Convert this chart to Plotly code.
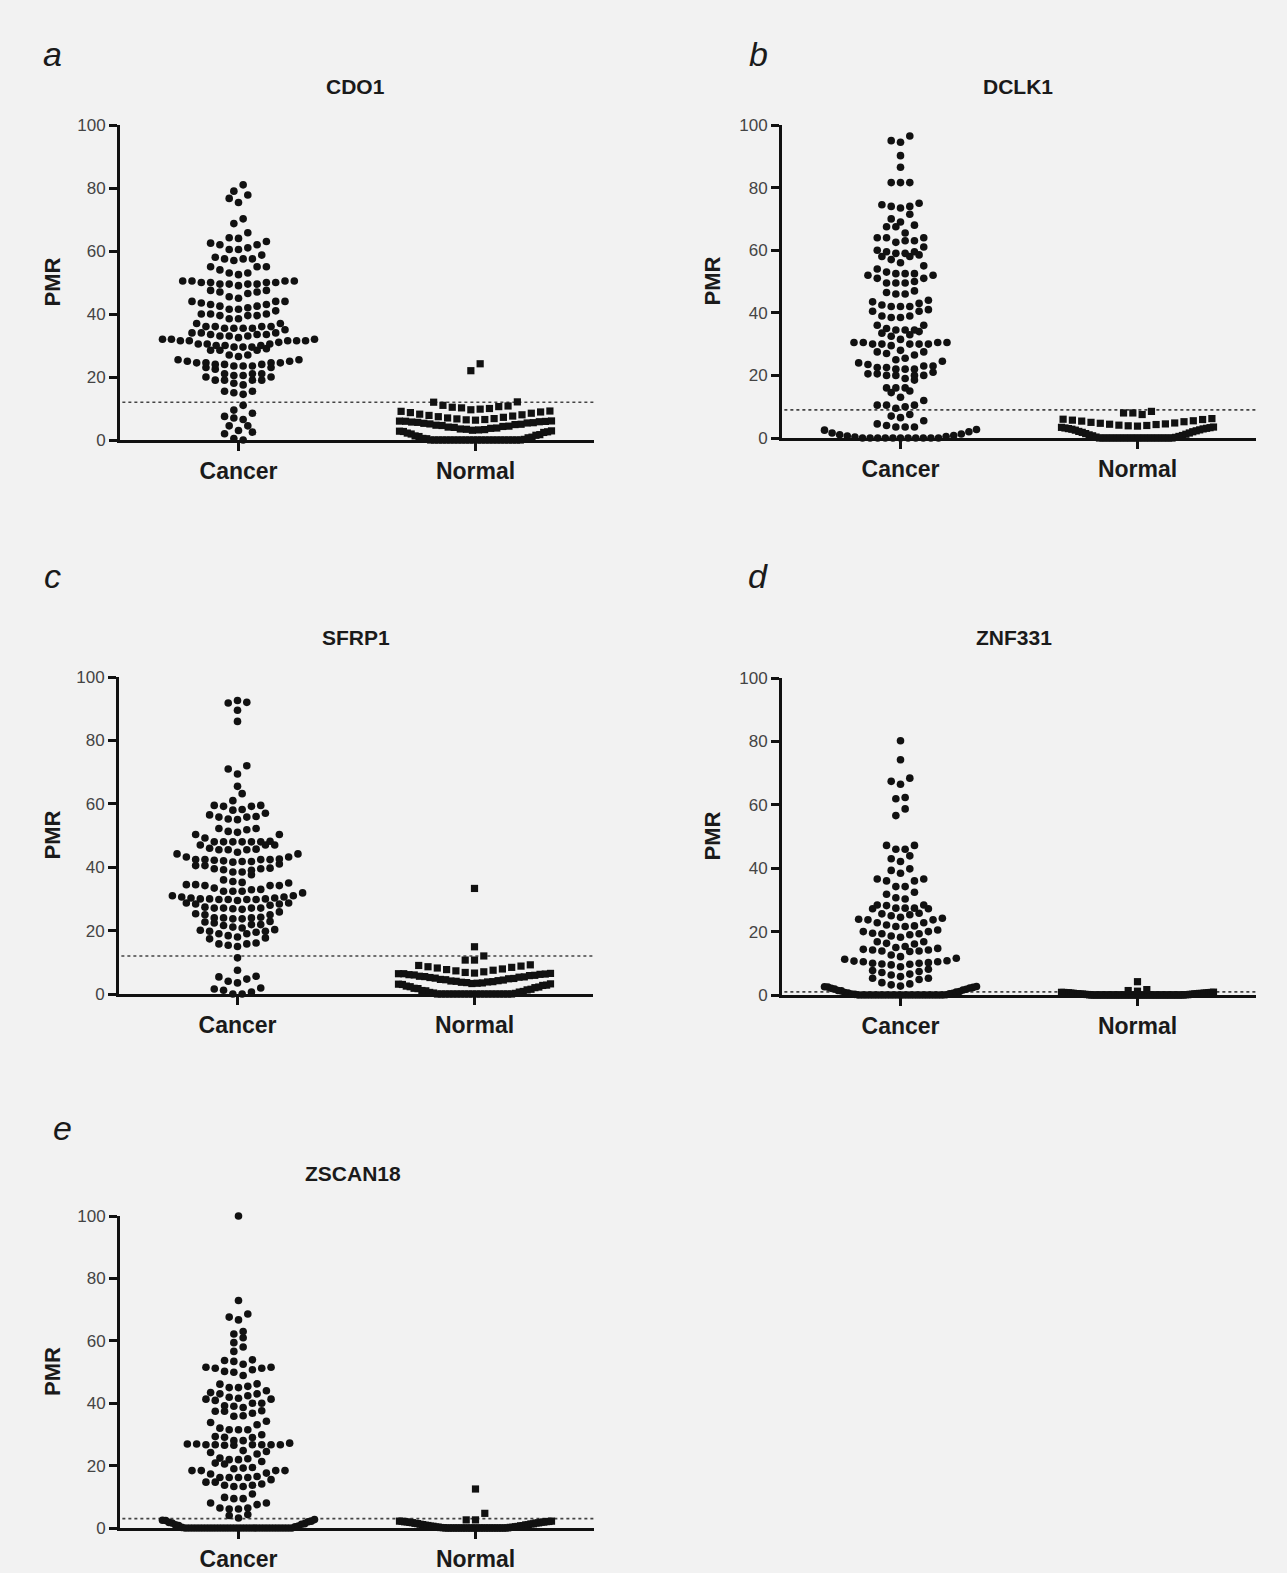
import plotly.graph_objects as go

# ---------------- data (PMR values) ----------------
genes = ["CDO1", "DCLK1", "SFRP1", "ZNF331", "ZSCAN18"]
letters = ["a", "b", "c", "d", "e"]
categories = ["Cancer", "Normal"]
thresholds = [12, 9, 12, 1, 3]
y_ticks = [0, 20, 40, 60, 80, 100]

a_cancer = [81, 79, 77.8, 76.7, 75.4, 70.2, 68.7, 65.8,
            64.2, 64, 63, 62, 62, 62.5, 61, 60.5, 60.5,
            58.7, 57.5, 57.5, 57, 57.5, 58,
            55, 54, 53, 53, 55, 55,
            52.5, 49.5, 49, 50.5, 50.5, 50.5, 50, 49.5, 50, 50, 49.5, 50, 49.5, 50.5,
            47.5, 47, 46.5, 47, 47.5, 45, 45.5,
            43, 42.5, 42, 41.5, 44, 44, 43.5, 44, 41, 41.5, 42.5, 43,
            39.5, 38.5, 40, 40, 38.5, 40, 39.5, 39.5,
            37, 37,
            36, 36, 35.5, 35.5, 34, 34, 33.5, 33.5, 34, 35, 35.5, 35.5, 36, 36,
            33, 33, 32, 31.5, 31.5, 31.5, 31, 30.5, 30.5, 30.5, 31.5, 31.5, 32, 32, 32.5, 33, 33.5,
            30, 29.5, 29.5, 28.5, 28.5, 27, 27, 28.5, 29, 29.5, 30, 30, 26.5,
            25.5, 25, 24.5, 24.5, 24, 24, 24.5, 24.5, 25, 25.5, 24, 23.5, 23, 22.5, 23, 23.5, 23.5,
            20, 19, 19, 21, 20.5, 21, 21, 20, 20.5, 19, 19, 18, 17.5,
            15.5, 14.5, 15, 15.5,
            11, 8.5, 7.5, 9.5, 6.5, 7,
            4.5, 4.5, 3, 2.5, 2, 0, 0.5]
a_normal = [0, 0, 0, 0, 0, 0, 0, 0, 0, 0, 0, 0, 0, 0, 0, 0, 0, 0, 0, 0, 0, 0, 0, 0,
            0.2, 0.4, 0.5, 0.7, 0.9, 1.1, 1.3, 1.5, 1.7, 1.9, 2.2, 2.4, 2.6, 2.7, 2.8, 2.9,
            3.1, 3.2, 3.3, 3.4, 3.5, 3.7, 3.8, 4.0, 4.1, 4.3, 4.4, 4.6, 4.7, 4.9, 5.0, 5.1,
            5.3, 5.4, 5.5, 5.6, 5.7, 5.8, 5.9, 5.95, 6.0, 6.05,
            6.3, 6.4, 6.5, 6.7, 6.8, 7.0, 7.2, 7.4, 7.6, 7.8, 8.0, 8.2, 8.5, 8.7, 8.9, 9.1, 9.2,
            9.6, 9.8, 10.0, 10.2, 10.4, 10.6, 10.8, 11.0, 12.0, 12.1,
            22, 24.2]

b_cancer = [96.5, 95, 94.5, 90.2, 86.5, 81.6, 81.6, 81.6,
            75, 74.5, 74, 73.5, 74, 71.5, 70,
            69, 68, 67.5, 67.5, 65.5,
            64, 64, 63, 62.5, 64, 63,
            61, 60, 59.5, 59.5, 59, 59, 58.5, 58, 58, 57, 56, 55,
            54, 53, 52.5, 52.5, 52, 52.5, 52, 51, 51, 49.5, 49.5, 49.5, 50, 47, 46.5, 46, 46,
            43.5, 43, 42.5, 42, 44, 42, 42, 41, 40.5, 40.5, 39, 38.5, 38.5, 39,
            36, 36, 35, 34.5, 34.5, 34.5, 34, 33.5, 33, 32.5, 31.5,
            30.5, 30.5, 30.5, 30, 30, 30, 30, 30.5, 29.5, 28, 27.5, 27, 27.5, 26.5, 30,
            25.5, 25, 24.5, 24, 23.5, 23, 23, 22.5, 22.5, 22, 22, 22, 21, 20, 20, 20, 20,
            20.5, 20.5, 19, 18.5,
            16, 16, 16, 15, 14.5,
            13, 12,
            10.5, 10.5, 10.5, 9.5, 10,
            7.5, 7, 6.5, 5.5, 4.5, 4, 3.5, 3.5, 3.5,
            0, 0, 0, 0, 0, 0, 0, 0, 0, 0, 0,
            0.3, 0.5, 0.6, 0.8, 1, 1.3, 1.6, 2, 2.5, 2.7]
b_normal = [0, 0, 0, 0, 0, 0, 0, 0, 0, 0, 0, 0, 0, 0, 0, 0, 0, 0, 0, 0, 0, 0,
            0.2, 0.3, 0.5, 0.7, 0.8, 1.0, 1.2, 1.4, 1.6, 1.8, 2.0, 2.1, 2.3, 2.5, 2.6, 2.8,
            2.9, 3.0, 3.1, 3.2, 3.3, 3.4, 3.5,
            3.8, 3.9, 4.0, 4.1, 4.3, 4.4, 4.5, 4.7, 4.8, 5.0, 5.2, 5.4, 5.5, 5.7, 5.9, 6.0, 6.2,
            7.5, 8.0, 8.0, 8.5]

c_cancer = [92.6, 91.8, 92, 89.5, 86, 72, 71, 69.4, 65.5, 63.2,
            61, 59.2, 59.2, 59.5, 59.5, 58.2, 58, 57, 56, 55.8, 55, 55.2, 55.8, 56.5,
            52.2, 51.3, 51, 51.8, 52.2, 50.3, 50.3, 49.2, 48.2, 48, 48, 48, 48, 48, 48,
            47, 47, 47, 46, 45.5, 45.5, 45.7, 45.5, 44.7,
            44.2, 44.2, 43.2, 43.2, 42.6, 42.4, 42.4, 42.2, 41.8, 41.6, 41.8, 42, 42.4, 42.4,
            41, 40.5, 39.7, 39.5, 39.5, 40.5, 39.2, 38.5, 38.5, 39, 37.6,
            36, 35.5, 35, 35.2, 34.5, 34.2, 34.2, 33, 32.4, 32.4, 31.9, 32.4, 32.9, 33.4, 34.2, 34.5,
            31, 30.6, 30.3, 30, 30, 29.8, 29.8, 28.7, 28.4, 28.4, 28.7, 29.5, 29.8, 29.8, 30,
            30.3, 30.6, 31,
            28, 27.1, 27.1, 26.9, 25.9, 25, 25, 25.3, 26.7, 27.1, 27.1, 27.4,
            24, 24, 23.7, 22.9, 21.9, 21.6, 21.9, 22.4, 22.7, 23.7, 24, 24.2,
            21.1, 20.3, 19.8, 19.5, 19, 18.4, 19, 19.8, 20.1, 20.8,
            17.7, 17.4, 18, 16.1, 15.8, 15, 15.4, 15.8,
            11.4, 7.5, 5.4, 5.6, 4.7, 4, 3.5, 1.6, 1.9, 1.2, 0.6, 0, 0]
c_normal = [0, 0, 0, 0, 0, 0, 0, 0, 0, 0, 0, 0, 0, 0, 0, 0, 0, 0, 0, 0,
            0.2, 0.3, 0.5, 0.6, 0.8, 1.0, 1.1, 1.3, 1.5, 1.7, 1.8, 2.0, 2.2, 2.3, 2.5,
            2.7, 2.8, 3.0, 3.1, 3.2,
            3.3, 3.4, 3.5, 3.6, 3.7, 3.8, 3.9, 4.0, 4.1, 4.2, 4.4, 4.5, 4.6, 4.8, 4.9,
            5.0, 5.2, 5.3, 5.4, 5.5, 5.6, 5.8, 5.9, 6.0, 6.1, 6.2, 6.3, 6.4, 6.4, 6.5,
            6.6, 6.8, 7.0, 7.3, 7.5, 7.7, 7.9, 8.2, 8.4, 8.6, 8.8, 9.0, 9.2,
            10.7, 10.7, 12.0, 14.9, 33.3]

d_cancer = [80.2, 74.2, 68.4, 67.4, 66.5, 62.3, 61.9, 58.7, 56.6,
            47.2, 47.2, 46, 46, 43.9, 43, 42.1, 39.8, 39.3, 38.4, 36.6, 36.6, 36, 36,
            34.2, 34.2, 32.4, 31.8, 30.7, 30.3,
            28.4, 28.4, 28.2, 27.4, 27.4, 27.2, 27.2, 27.4, 25.6, 25, 25.8, 25.3,
            24.2, 23.7, 23.7, 23.9, 24.5, 22.8, 22.8,
            21.8, 21.6, 21.6, 22.1, 20.5, 20, 20, 19.5, 19.3, 19.3, 19, 18.6, 18.2,
            16.8, 16.8, 16.3, 16.1,
            15.3, 14.7, 15, 14.4, 14.2, 13.9, 13.7, 13.9, 14.2, 12.6, 12.1, 11.6, 11.3,
            10.7, 10.5, 9.7, 10, 10, 9.8, 10.2, 10.5, 10.8, 9.5, 8.9, 8.1, 7.7, 7.4, 7.1,
            6.6, 6.3, 5.8, 5.3, 5.3, 4.9, 3.9, 3.5, 3.2, 2.8,
            0, 0, 0, 0, 0, 0, 0, 0, 0, 0, 0, 0, 0, 0, 0, 0, 0, 0, 0, 0, 0, 0, 0, 0, 0, 0,
            0.1, 0.2, 0.3, 0.4, 0.5, 0.6, 0.8, 0.9, 1.1, 1.3, 1.4, 1.6, 1.8, 1.9, 2.1,
            2.2, 2.4, 2.5, 2.6, 2.7]
d_normal = [0, 0, 0, 0, 0, 0, 0, 0, 0, 0, 0, 0, 0, 0, 0, 0, 0, 0, 0, 0,
            0, 0, 0, 0, 0, 0, 0, 0, 0, 0, 0, 0, 0, 0, 0, 0, 0, 0, 0, 0,
            0.05, 0.1, 0.1, 0.15, 0.2, 0.2, 0.25, 0.3, 0.3, 0.35, 0.4, 0.4, 0.45, 0.5,
            0.5, 0.55, 0.6, 0.6, 0.65, 0.7, 0.7, 0.75, 0.8, 0.8, 0.85, 0.9,
            1.2, 1.4, 1.7, 4.2]

e_cancer = [100, 72.9, 68.6, 67.6, 66.7, 63, 62.2, 61, 59.4, 58, 56.6,
            53.9, 53.7, 53.4, 52.5, 51.5, 51.5, 51.2, 51.2, 50.7, 50.2, 49.9, 48.9,
            46.1, 45, 46.2, 45.4, 45, 44, 43.4, 43, 43, 42.4, 41.9, 41.6, 41.3, 41.3,
            40.9, 40, 40, 39, 39.2, 38.6, 37.6, 37.4, 37.4, 36.8, 36, 35.8, 34.2, 33.8,
            33.1, 32, 31.5, 31.5, 31.5, 29.9,
            29.1, 29.3, 29, 28, 28, 27.2, 26.9, 26.7, 26.7, 26.5, 26.7, 26.7, 26.7,
            26.9, 26.7, 26.5, 24.8, 24.2, 23.7, 24.5, 22.4, 21.9, 21.9, 22.2, 21.3,
            20.8, 20.5,
            19.4, 19, 19.2, 18.4, 18.4, 18.4, 18.4, 17.3, 17.6, 16.5, 16.2, 16.2, 16.2,
            16.2, 15.5, 14.7, 14.7, 14.1, 13.7, 13.3, 13.3, 13.7, 10.9, 9.8, 9.4, 9.4,
            8, 8, 7.5, 6.4, 6.4, 6.1, 6.1, 4, 4.3, 3.2,
            0, 0, 0, 0, 0, 0, 0, 0, 0, 0, 0, 0, 0, 0, 0, 0, 0, 0, 0, 0, 0, 0, 0, 0,
            0, 0, 0, 0, 0, 0, 0, 0, 0, 0,
            0.2, 0.4, 0.6, 0.8, 1.0, 1.2, 1.4, 1.6, 1.8, 2.0, 2.2, 2.4, 2.5, 2.7]
e_normal = [0, 0, 0, 0, 0, 0, 0, 0, 0, 0, 0, 0, 0, 0, 0, 0, 0, 0, 0, 0, 0, 0, 0, 0,
            0.05, 0.1, 0.15, 0.2, 0.25, 0.3, 0.35, 0.4, 0.5, 0.55, 0.6, 0.7, 0.75,
            0.8, 0.9, 1.0, 1.05, 1.1, 1.2, 1.3, 1.35, 1.4, 1.5, 1.6, 1.65, 1.7, 1.8,
            1.85, 1.9, 1.95, 2.0, 2.05, 2.1, 2.15, 2.2, 2.2,
            2.6, 2.6, 4.7, 12.5]

cancer_sets = [a_cancer, b_cancer, c_cancer, d_cancer, e_cancer]
normal_sets = [a_normal, b_normal, c_normal, d_normal, e_normal]

# ---------------- layout / style ----------------
W, H = 1287, 1573
BG = "#f2f2f2"
# plot area boxes in pixels: (left, right, top, bottom)
boxes = [(120, 594, 125, 440), (782, 1256, 125, 438), (119, 593, 677, 994),
         (782, 1256, 678, 995), (120, 594, 1216, 1528)]
title_xy = [(355, 86), (1018, 86), (356, 637), (1014, 637), (353, 1173)]
letter_xy = [(52, 54), (758, 54), (52, 576), (758, 576), (62, 1128)]
row_h_cancer = [2.8, 2.8, 2.8, 2.8, 2.8]
row_h_normal = [3.0, 3.6, 3.3, 1.0, 2.5]

PX_PER_UNIT = 237.0
DX = 9.3 / PX_PER_UNIT       # centre spacing of neighbouring symbols
CAP = 76.0 / PX_PER_UNIT      # max half-width of a row
FONT = "Liberation Sans, Arial, sans-serif"


def swarm(values, h):
    vals = sorted(values)
    xs, ys = [], []
    i, n = 0, len(vals)
    while i < n:
        start = vals[i]
        j = i
        while j < n and vals[j] < start + h:
            j += 1
        row = vals[i:j]
        m = len(row)
        sp = DX if (m - 1) * DX <= 2 * CAP else 2 * CAP / (m - 1)
        slots = [(k - (m - 1) / 2.0) * sp for k in range(m)]
        order = sorted(range(m), key=lambda k: (round(abs(slots[k]), 6), (k % 2)))
        for v, k in zip(row, order):
            xs.append(slots[k])
            ys.append(v)
        i = j
    return xs, ys


fig = go.Figure()
annotations = []
shapes = []

for p in range(5):
    sfx = "" if p == 0 else str(p + 1)
    xa, ya = "x" + sfx, "y" + sfx
    l, r, t, b = boxes[p]
    for ci, (vals, sym, h) in enumerate([(cancer_sets[p], "circle", row_h_cancer[p]),
                                         (normal_sets[p], "square", row_h_normal[p])]):
        ox, oy = swarm(vals, h)
        fig.add_trace(go.Scatter(
            x=[ci + o for o in ox], y=oy, mode="markers",
            marker=dict(symbol=sym, size=7.6 if sym == "circle" else 7.2,
                        color="#111111", line=dict(width=0)),
            cliponaxis=False, showlegend=False, hoverinfo="skip",
            xaxis=xa, yaxis=ya))

    fig.layout["xaxis" + sfx] = dict(
        domain=[l / W, r / W], anchor=ya, range=[-0.5, 1.5],
        showline=True, linecolor="#111111", linewidth=3, mirror=False,
        ticks="outside", ticklen=8, tickwidth=2.5, tickcolor="#111111",
        tickvals=[0, 1], ticktext=categories,
        tickfont=dict(family=FONT, size=23, color="#1a1a1a", weight="bold"),
        showgrid=False, zeroline=False, fixedrange=True, automargin=False)
    fig.layout["yaxis" + sfx] = dict(
        domain=[1 - b / H, 1 - t / H], anchor=xa, range=[0, 100],
        showline=True, linecolor="#111111", linewidth=3,
        ticks="outside", ticklen=8, tickwidth=2.5, tickcolor="#111111",
        tickvals=y_ticks, ticktext=[str(v) for v in y_ticks],
        tickfont=dict(family=FONT, size=17, color="#444444"),
        showgrid=False, zeroline=False, fixedrange=True, automargin=False)

    shapes.append(dict(type="line", xref=xa + " domain", yref=ya,
                       x0=0.005, x1=1, y0=thresholds[p], y1=thresholds[p],
                       line=dict(color="#444444", width=1.6, dash="dot"), layer="below"))

    tx, ty = title_xy[p]
    annotations.append(dict(text=genes[p], xref="paper", yref="paper",
                            x=tx / W, y=1 - ty / H, xanchor="center", yanchor="middle",
                            showarrow=False,
                            font=dict(family=FONT, size=21, color="#1a1a1a", weight="bold")))
    lx, ly = letter_xy[p]
    annotations.append(dict(text=letters[p], xref="paper", yref="paper",
                            x=lx / W, y=1 - ly / H, xanchor="center", yanchor="middle",
                            showarrow=False,
                            font=dict(family=FONT, size=34, color="#1a1a1a", style="italic")))
    px_ = 52 if l < 300 else 712
    annotations.append(dict(text="PMR", xref="paper", yref="paper", textangle=-90,
                            x=px_ / W, y=1 - ((t + b) / 2) / H, xanchor="center",
                            yanchor="middle", showarrow=False,
                            font=dict(family=FONT, size=22, color="#1a1a1a", weight="bold")))

fig.update_layout(width=W, height=H, margin=dict(l=0, r=0, t=0, b=0, pad=0),
                  autosize=False,
                  paper_bgcolor=BG, plot_bgcolor=BG,
                  annotations=annotations, shapes=shapes, showlegend=False)

page_fix = (
    "document.documentElement.style.margin='0';"
    "document.documentElement.style.overflow='hidden';"
    "document.documentElement.style.background='%s';"
    "document.body.style.margin='0';document.body.style.padding='0';"
    "document.body.style.overflow='hidden';"
    "document.body.style.background='%s';"
    "var gd=document.getElementsByClassName('plotly-graph-div')[0];"
    "gd.style.position='fixed';gd.style.left='0px';gd.style.top='0px';"
    "document.body.style.height='%dpx';"
    "window.scrollTo(0,0);" % (BG, BG, H)
)
fig.write_html("out.html", post_script=page_fix,
               config={"displayModeBar": False, "responsive": False})
